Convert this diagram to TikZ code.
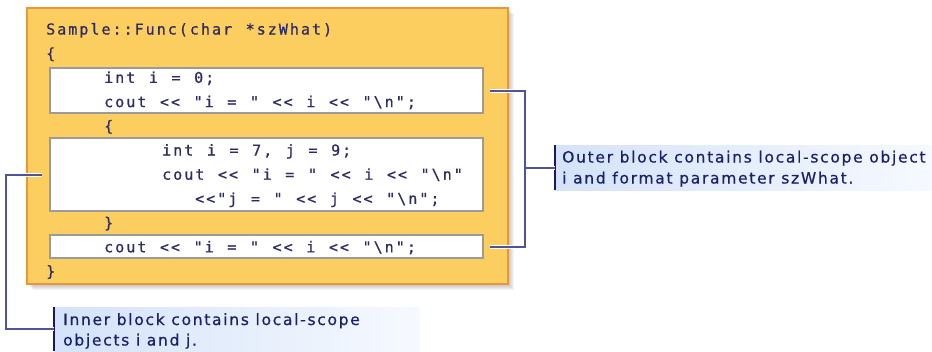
\documentclass[tikz,border=0pt]{standalone}
\usepackage{fontspec}
\newfontfamily\codefont{DejaVu Sans Mono}[LetterSpace=13.5,WordSpace=1.23,FakeBold=0.7]
\newfontfamily\notefont{DejaVu Sans}[LetterSpace=11,FakeBold=0.6]
\usetikzlibrary{fit}

\definecolor{blockfill}{RGB}{252,205,95}
\definecolor{blockedge}{RGB}{230,150,60}
\definecolor{codeink}{RGB}{44,44,100}
\definecolor{boxedge}{RGB}{155,155,155}
\definecolor{bracketink}{RGB}{82,82,152}
\definecolor{barink}{RGB}{24,24,100}
\definecolor{noteink}{RGB}{28,32,108}
\definecolor{notebg}{RGB}{212,227,248}
\definecolor{notebgend}{RGB}{246,249,255}

\begin{document}
\begin{tikzpicture}[x=1bp,y=-1bp,
  outerblock/.style={inner sep=0pt, fill=blockfill, draw=blockedge, line width=1.3bp},
  innerblock/.style={inner sep=0pt, fill=white, draw=boxedge, line width=1.4bp},
  codeline/.style={anchor=base west, inner sep=0pt, text=codeink,
    font=\codefont\fontsize{15bp}{17bp}\selectfont},
  notearea/.style={inner sep=0pt, left color=notebg, right color=notebgend},
  noteline/.style={anchor=base west, inner sep=0pt, text=noteink,
    font=\notefont\fontsize{15.5bp}{19bp}\selectfont},
  notebar/.style={draw=barink, line width=2bp},
  halo/.style={draw=white, line width=4bp},
  bracket/.style={draw=bracketink, line width=2bp}
]
\useasboundingbox (0,0) rectangle (932,351);

% soft shadow under the function body
\foreach \k in {1,...,6}
  \fill[black, opacity=0.045] (27+\k,8+\k) rectangle (508+\k,284+\k);

% function body and its nested blocks
\node[outerblock, fit={(27,8) (508,284)}] (body) {};
\node[innerblock, fit={(50,68) (483,113)}] (b1) {};
\node[innerblock, fit={(50,138) (483,211)}] (b2) {};
\node[innerblock, fit={(50,235) (483,258)}] (b3) {};

% source text
\node[codeline] (l0)  at (46,34.5)  {Sample::Func(char *szWhat)};
\node[codeline] (l1)  at (46,58.7)  {\{};
\node[codeline] (l2)  at (104,82.9) {int i = 0;};
\node[codeline] (l3)  at (104,107.1) {cout << "i = " << i << "\textbackslash n";};
\node[codeline] (l4)  at (104,131.3) {\{};
\node[codeline] (l5)  at (162,155.5) {int i = 7, j = 9;};
\node[codeline] (l6)  at (162,179.7) {cout << "i = " << i << "\textbackslash n"};
\node[codeline] (l7)  at (195,203.9) {<<"j = " << j << "\textbackslash n";};
\node[codeline] (l8)  at (104,228.1) {\}};
\node[codeline] (l9)  at (104,252.3) {cout << "i = " << i << "\textbackslash n";};
\node[codeline] (l10) at (46,276.5) {\}};

% callout notes
\node[notearea, fit={(555,145) (932,190)}] (outerNote) {};
\draw[notebar] (outerNote.north west) -- (outerNote.south west);
\node[noteline] (on1) at (562,162.5) {Outer block contains local-scope object};
\node[noteline] (on2) at (562,183.5) {i and format parameter szWhat.};

\node[notearea, fit={(54,307) (420,351)}] (innerNote) {};
\draw[notebar] (innerNote.north west) -- (innerNote.south west);
\node[noteline] (in1) at (63,325) {Inner block contains local-scope};
\node[noteline] (in2) at (63,345.5) {objects i and j.};

% brackets from the blocks to their notes
\coordinate (ospine) at ([xshift=41bp]b1.east);
\foreach \sty in {halo,bracket} {
  \draw[\sty] ([xshift=6bp]b1.east) -- (ospine) |- ([xshift=6bp]b3.east);
  \draw[\sty] (ospine |- outerNote.west) -- (outerNote.west);
  \draw[\sty] ([xshift=-7bp]b2.west) -- ++(-36,0) |- (innerNote.west);
}
\end{tikzpicture}
\end{document}
